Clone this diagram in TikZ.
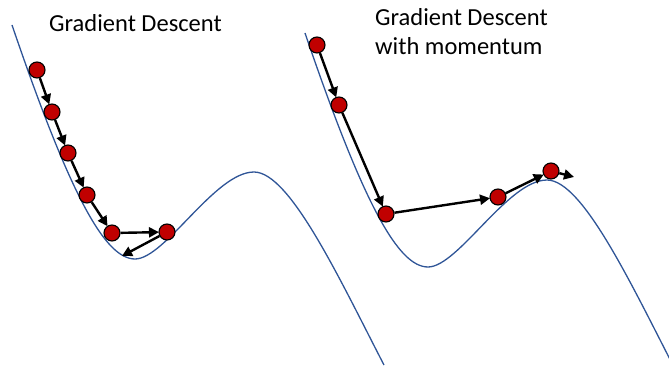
\documentclass[tikz,border=0pt]{standalone}
\usepackage{fontspec}
\setmainfont{Carlito}
\usetikzlibrary{arrows.meta}
\definecolor{curveblue}{RGB}{47,85,151}
\definecolor{ballred}{RGB}{192,0,0}
\tikzset{
  ball/.style={circle,draw=black,fill=ballred,line width=1.1pt,minimum size=16pt,inner sep=0pt},
  arr/.style={line width=2.4pt,-{Triangle[length=10pt,width=10pt]},shorten >=-0.5pt},
  landscape/.style={draw=curveblue,line width=1.3pt},
  title/.style={anchor=west,inner sep=0pt,font=\fontsize{24.5}{29}\selectfont,align=left}
}
\begin{document}
\begin{tikzpicture}[x=1pt,y=-1pt]
\useasboundingbox (0,0) rectangle (669,374);
\clip (0,0) rectangle (669,374);
% landscapes
\draw[landscape] (12,25) .. controls (70,195) and (105,259) .. (135,259)
  .. controls (165,259) and (215,172) .. (254,172)
  .. controls (290,172) and (340,280) .. (384,365);
\begin{scope}[shift={(293,8)}]
\draw[landscape] (12,25) .. controls (70,195) and (105,259) .. (135,259)
  .. controls (165,259) and (215,172) .. (254,172)
  .. controls (290,172) and (340,280) .. (384,365);
\end{scope}
% titles
\node[title] (t1) at (49,23) {Gradient Descent};
\node[title] (t2) at (375,17) {Gradient Descent};
\node[title] (t3) at (375,46) {with momentum};
% left balls
\node[ball] (a1) at (37,70) {};
\node[ball] (a2) at (52,112) {};
\node[ball] (a3) at (68,153) {};
\node[ball] (a4) at (87,195) {};
\node[ball] (a5) at (112,233) {};
\node[ball] (a6) at (167,232) {};
\coordinate (a7) at (122,256);
\draw[arr] (a1) -- (a2);
\draw[arr] (a2) -- (a3);
\draw[arr] (a3) -- (a4);
\draw[arr] (a4) -- (a5);
\draw[arr] (a5) -- (a6);
\draw[arr,shorten >=0pt] (a6) -- (a7);
% right balls
\node[ball] (b1) at (317,45) {};
\node[ball] (b2) at (339,105) {};
\node[ball] (b3) at (386,214) {};
\node[ball] (b4) at (498,197) {};
\node[ball] (b5) at (551,171) {};
\coordinate (b6) at (574,177);
\draw[arr] (b1) -- (b2);
\draw[arr] (b2) -- (b3);
\draw[arr] (b3) -- (b4);
\draw[arr] (b4) -- (b5);
\draw[arr,shorten >=0pt] (b5) -- (b6);
\end{tikzpicture}
\end{document}
